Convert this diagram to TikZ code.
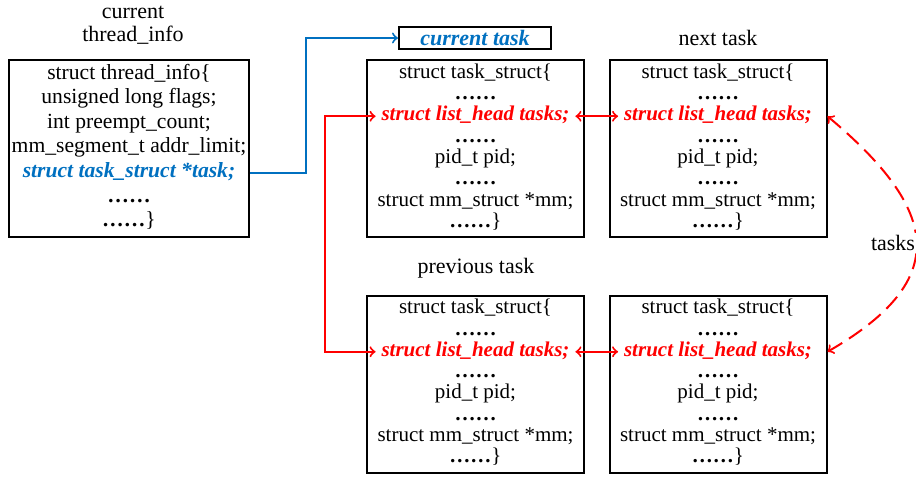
\documentclass[tikz,border=0pt]{standalone}
\usepackage{fontspec}
\setmainfont{Liberation Serif}
\usetikzlibrary{positioning}
\definecolor{ptrblue}{RGB}{0,112,192}
\tikzset{
  box/.style={draw, line width=1pt, minimum width=108.5pt, minimum height=88.5pt, inner sep=0pt},
  tline/.style={inner ysep=0pt, inner xsep=3pt, outer sep=0pt, text height=7.6pt, text depth=3.05pt, font=\fontsize{10.5}{12}\selectfont},
  hline/.style={tline, text=red, font=\fontsize{10.5}{12}\selectfont\bfseries\itshape},
  iline/.style={inner ysep=0pt, outer sep=0pt, text height=8.5pt, text depth=3.8pt, font=\fontsize{10.8}{12}\selectfont},
  title/.style={font=\fontsize{11}{11.5}\selectfont, align=center},
  link/.style={red, line width=1pt, <->},
}
\newcommand{\dotsl}{\textbf{……}}
% one task_struct box with its eight lines
\newcommand{\taskbox}[2]{%
  \node[box] (#1) at #2 {};
  \node[tline, below=2pt of #1.north] (#1-1) {struct task\_struct\{};
  \node[tline, below=0pt of #1-1] (#1-2) {\dotsl};
  \node[hline, below=0pt of #1-2] (#1-3) {struct list\_head tasks;};
  \node[tline, below=0pt of #1-3] (#1-4) {\dotsl};
  \node[tline, below=0pt of #1-4] (#1-5) {pid\_t pid;};
  \node[tline, below=0pt of #1-5] (#1-6) {\dotsl};
  \node[tline, below=0pt of #1-6] (#1-7) {struct mm\_struct *mm;};
  \node[tline, below=0pt of #1-7] (#1-8) {\dotsl\}};
}
\begin{document}
\begin{tikzpicture}[x=0.5pt, y=-0.5pt]
    \useasboundingbox (0,0) rectangle (916,478);
    % thread_info
    \node[title] (tititle) at (133,25) {current\\thread\_info};
    \node[box, minimum width=120pt] (ti) at (129,148.5) {};
    \node[iline, below=1.5pt of ti.north] (ti-1) {struct thread\_info\{};
    \node[iline, below=0pt of ti-1] (ti-2) {unsigned long flags;};
    \node[iline, below=0pt of ti-2] (ti-3) {int preempt\_count;};
    \node[iline, below=0pt of ti-3] (ti-4) {mm\_segment\_t addr\_limit;};
    \node[iline, below=0pt of ti-4, text=ptrblue, font=\fontsize{10.8}{12}\selectfont\bfseries\itshape] (ti-5) {struct task\_struct *task;};
    \node[iline, below=0pt of ti-5] (ti-6) {\dotsl};
    \node[iline, below=0pt of ti-6] (ti-7) {\dotsl\}};
    % task boxes
    \node[draw, line width=1pt, minimum width=76pt, minimum height=11pt, inner sep=0pt, text=ptrblue, font=\fontsize{11}{12}\selectfont\bfseries\itshape] (curtask) at (475,38) {current task};
    \taskbox{cur}{(475.5,148.5)}
    \node[title] (nexttitle) at (718,38) {next task};
    \taskbox{next}{(718,148.5)}
    \node[title] (prevtitle) at (476,268) {previous task};
    \taskbox{prev}{(475.5,384)}
    \taskbox{tail}{(718,384)}
    % pointers
    \draw[ptrblue, line width=1pt, ->] (ti-5.east -| ti.east) -- ++(56,0) |- (curtask.west);
    \coordinate (turn) at (325,0);
    \draw[link] (cur-3.west) -- (cur-3.west -| turn) -- (prev-3.west -| turn) -- (prev-3.west);
    \draw[link] (cur-3) -- (next-3);
    \draw[link] (prev-3) -- (tail-3);
    \draw[link, dash pattern=on 8pt off 4pt] (next-3 -| next.east) to[out=-40, in=30, looseness=1.58] (tail-3 -| tail.east);
    \node[title, fill=white, inner sep=1pt] (tasklbl) at (893,243) {tasks};
\end{tikzpicture}
\end{document}
